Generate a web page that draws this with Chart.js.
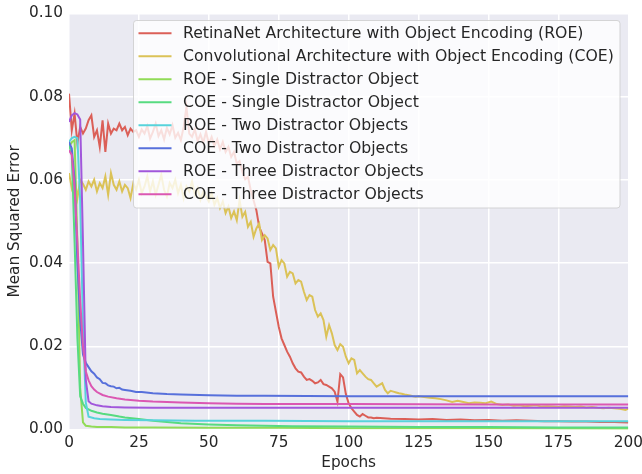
<!DOCTYPE html>
<html>
<head>
<meta charset="utf-8">
<script src="https://cdn.jsdelivr.net/npm/chart.js@4.4.1/dist/chart.umd.min.js"></script>
<style>
  html, body { margin: 0; padding: 0; background: #ffffff; }
  #c { display: block; }
</style>
</head>
<body>
<canvas id="c" width="642" height="474"></canvas>
<script>
// ---------- data ----------
const seriesLabels = [
  'RetinaNet Architecture with Object Encoding (ROE)',
  'Convolutional Architecture with Object Encoding (COE)',
  'ROE - Single Distractor Object',
  'COE - Single Distractor Object',
  'ROE - Two Distractor Objects',
  'COE - Two Distractor Objects',
  'ROE - Three Distractor Objects',
  'COE - Three Distractor Objects'
];
const seriesColors = ['#db5f57', '#dbc257', '#91db57', '#57db80', '#57d3db', '#5770db', '#a157db', '#db57b2'];

const xTicks = [0, 25, 50, 75, 100, 125, 150, 175, 200];
const yTicks = [0.00, 0.02, 0.04, 0.06, 0.08, 0.10];

// RetinaNet (ROE): one value per epoch 0..110, then every 5 epochs
const roeEpochs = [
  0,1,2,3,4,5,6,7,8,9,10,11,12,13,14,15,16,17,18,19,20,21,22,23,24,
  25,26,27,28,29,30,31,32,33,34,35,36,37,38,39,40,41,42,43,44,45,46,47,48,49,
  50,51,52,53,54,55,56,57,58,59,60,61,62,63,64,65,66,67,68,69,70,71,72,73,74,
  75,76,77,78,79,80,81,82,83,84,85,86,87,88,89,90,91,92,93,94,95,96,97,98,99,
  100,101,102,103,104,105,106,107,108,109,110,
  115,120,125,130,135,140,145,150,155,160,165,170,175,180,185,190,195,200
];
const roeMSE = [
  0.0807,0.0719,0.0759,0.0687,0.0727,0.0711,0.0723,0.0743,0.0755,0.0703,0.0719,0.0679,0.0743,0.0667,0.0735,0.0711,0.0723,0.0719,0.0735,0.0719,0.0727,0.0707,0.0723,0.0715,0.0719,
  0.0703,0.0721,0.0711,0.0729,0.0699,0.0715,0.0735,0.0705,0.0719,0.0697,0.0725,0.0709,0.0731,0.0701,0.0713,0.0695,0.0727,0.0775,0.0711,0.0703,0.0721,0.0693,0.0709,0.0689,0.0715,
  0.0687,0.0703,0.0681,0.0697,0.0673,0.0691,0.0667,0.0679,0.0655,0.0667,0.0639,0.0645,0.0619,0.0601,0.0607,0.0575,0.0551,0.0527,0.0487,0.0471,0.0455,0.0403,0.0399,0.0319,0.0283,
  0.0247,0.0219,0.0203,0.0187,0.0175,0.0159,0.0147,0.0139,0.0137,0.0127,0.0119,0.0121,0.0117,0.0111,0.0113,0.0119,0.0109,0.0107,0.0103,0.0099,0.0091,0.0067,0.0133,0.0125,0.0085,
  0.0063,0.0051,0.0043,0.0035,0.0031,0.0037,0.0033,0.0029,0.0029,0.0027,0.0028,
  0.0026,0.0025,0.0024,0.0025,0.0023,0.0024,0.0022,0.0023,0.0021,0.0022,0.0021,0.0020,0.0020,0.0019,0.0019,0.0018,0.0018,0.0017
];

// Convolutional (COE): one value per epoch 0..125, then every 2 epochs
const coeEpochs = [
  0,1,2,3,4,5,6,7,8,9,10,11,12,13,14,15,16,17,18,19,20,21,22,23,24,
  25,26,27,28,29,30,31,32,33,34,35,36,37,38,39,40,41,42,43,44,45,46,47,48,49,
  50,51,52,53,54,55,56,57,58,59,60,61,62,63,64,65,66,67,68,69,70,71,72,73,74,
  75,76,77,78,79,80,81,82,83,84,85,86,87,88,89,90,91,92,93,94,95,96,97,98,99,
  100,101,102,103,104,105,106,107,108,109,110,111,112,113,114,115,116,117,118,119,120,121,122,123,124,125,
  127,129,131,133,135,137,139,141,143,145,147,149,151,153,155,157,159,161,163,165,167,169,171,173,175,177,179,181,183,185,187,189,191,193,195,197,199,200
];
const coeMSE = [
  0.0616,0.0580,0.0603,0.0556,0.0600,0.0590,0.0576,0.0596,0.0584,0.0600,
  0.0572,0.0592,0.0580,0.0608,0.0564,0.0616,0.0588,0.0576,0.0596,0.0572,
  0.0588,0.0580,0.0556,0.0592,0.0576,0.0600,0.0568,0.0584,0.0608,0.0572,
  0.0596,0.0564,0.0588,0.0612,0.0576,0.0560,0.0592,0.0580,0.0600,0.0568,
  0.0588,0.0556,0.0584,0.0572,0.0596,0.0564,0.0580,0.0552,0.0572,0.0560,
  0.0548,0.0568,0.0540,0.0556,0.0532,0.0548,0.0520,0.0536,0.0508,0.0524,
  0.0503,0.0551,0.0511,0.0523,0.0487,0.0499,0.0463,0.0483,0.0495,0.0455,
  0.0467,0.0459,0.0431,0.0443,0.0435,0.0391,0.0407,0.0399,0.0367,0.0379,
  0.0375,0.0351,0.0359,0.0355,0.0331,0.0311,0.0323,0.0319,0.0287,0.0271,
  0.0279,0.0263,0.0223,0.0251,0.0231,0.0203,0.0191,0.0205,0.0199,0.0175,
  0.0159,0.0171,0.0167,0.0135,0.0143,0.0135,0.0127,0.0121,0.0119,0.0111,
  0.0103,0.0107,0.0111,0.0095,0.0087,0.0093,0.0091,0.0089,0.0087,0.0086,
  0.0084,0.0083,0.0082,0.0080,0.0079,0.0080,
  0.0078,0.0076,0.0075,0.0073,0.0070,0.0066,0.0069,0.0066,0.0063,0.0065,0.0064,0.0063,0.0067,0.0061,0.0059,0.0060,0.0057,0.0058,0.0056,0.0057,
  0.0058,0.0055,0.0056,0.0055,0.0054,0.0056,0.0055,0.0054,0.0055,0.0053,0.0054,0.0052,0.0051,0.0052,0.0051,0.0050,0.0047,0.0050
];

const roeSingleEpochs = [0,1,2,3,4,5,6,8,10,15,20,30,50,75,100,150,200];
const roeSingleMSE    = [0.0680,0.0690,0.0695,0.0450,0.0100,0.0017,0.0009,0.0007,0.0006,0.0006,0.0005,0.0005,0.0004,0.0004,0.0003,0.0003,0.0002];

const coeSingleEpochs = [0,1,2,3,4,5,6,8,10,12,15,18,20,25,30,35,40,50,60,70,80,100,125,150,175,200];
const coeSingleMSE    = [0.0685,0.0660,0.0450,0.0220,0.0080,0.0062,0.0052,0.0045,0.0041,0.0038,0.0035,0.0031,0.0029,0.0025,0.0021,0.0018,0.0015,0.0012,0.0010,0.0009,0.0008,0.0007,0.0006,0.0006,0.0005,0.0005];

const roeTwoEpochs = [0,1,2,3,4,5,6,7,9,11,15,20,30,45,70,100,150,200];
const roeTwoMSE    = [0.0691,0.0700,0.0703,0.0700,0.0550,0.0250,0.0065,0.0031,0.0027,0.0025,0.0024,0.0023,0.0022,0.0021,0.0021,0.0020,0.0020,0.0020];

const coeTwoEpochs = [0,1,2,3,4,5,6,7,8,9,10,11,12,13,14,15,16,17,18,19,20,22,24,26,30,35,40,50,60,70,100,150,200];
const coeTwoMSE    = [0.0691,0.0675,0.0600,0.0400,0.0263,0.0180,0.0160,0.0150,0.0140,0.0134,0.0125,0.0121,0.0112,0.0111,0.0106,0.0104,0.0103,0.0099,0.0100,0.0096,0.0095,0.0093,0.0090,0.0090,0.0087,0.0085,0.0084,0.0082,0.0081,0.0081,0.0080,0.0080,0.0080];

const roeThreeEpochs = [0,1,2,3,4,5,6,7,8,10,12,15,20,30,50,100,150,200];
const roeThreeMSE    = [0.0739,0.0755,0.0760,0.0757,0.0745,0.0450,0.0120,0.0068,0.0062,0.0058,0.0056,0.0054,0.0053,0.0052,0.0052,0.0052,0.0052,0.0052];

const coeThreeEpochs = [0,1,2,3,4,5,6,7,8,9,10,12,14,17,20,25,30,40,50,60,70,100,150,200];
const coeThreeMSE    = [0.0671,0.0660,0.0580,0.0450,0.0310,0.0200,0.0140,0.0118,0.0104,0.0096,0.0090,0.0083,0.0079,0.0075,0.0072,0.0069,0.0067,0.0065,0.0063,0.0062,0.0061,0.0061,0.0060,0.0060];

// ---------- build datasets ----------
const seriesX = [roeEpochs, coeEpochs, roeSingleEpochs, coeSingleEpochs, roeTwoEpochs, coeTwoEpochs, roeThreeEpochs, coeThreeEpochs];
const seriesY = [roeMSE, coeMSE, roeSingleMSE, coeSingleMSE, roeTwoMSE, coeTwoMSE, roeThreeMSE, coeThreeMSE];

function pairs(xs, ys) { return xs.map((x, i) => ({ x: x, y: ys[i] })); }

const datasets = seriesLabels.map((label, i) => ({
  label: label,
  data: pairs(seriesX[i], seriesY[i]),
  borderColor: seriesColors[i],
  backgroundColor: seriesColors[i],
  borderWidth: 2,
  pointRadius: 0,
  tension: 0,
  fill: false,
  order: seriesLabels.length - i
}));

const FONT = 'DejaVu Sans';
const FS = 15.3;
const LEGEND_FS = 15.7;
const TEXT = '#262626';

const bgPlugin = {
  id: 'axesBg',
  beforeDraw(chart) {
    const { ctx, chartArea: a } = chart;
    ctx.save();
    ctx.fillStyle = '#eaeaf2';
    ctx.fillRect(a.left, a.top, a.right - a.left, a.bottom - a.top);
    ctx.restore();
  }
};

const legendPlugin = {
  id: 'boxLegend',
  afterDraw(chart) {
    const { ctx } = chart;
    const x0 = 133.5, y0 = 20.5, x1 = 620, y1 = 208, r = 3;
    ctx.save();
    ctx.beginPath();
    ctx.moveTo(x0 + r, y0);
    ctx.lineTo(x1 - r, y0); ctx.arcTo(x1, y0, x1, y0 + r, r);
    ctx.lineTo(x1, y1 - r); ctx.arcTo(x1, y1, x1 - r, y1, r);
    ctx.lineTo(x0 + r, y1); ctx.arcTo(x0, y1, x0, y1 - r, r);
    ctx.lineTo(x0, y0 + r); ctx.arcTo(x0, y0, x0 + r, y0, r);
    ctx.closePath();
    ctx.fillStyle = 'rgba(255,255,255,0.8)';
    ctx.fill();
    ctx.strokeStyle = 'rgba(204,204,204,0.8)';
    ctx.lineWidth = 1;
    ctx.stroke();
    ctx.font = LEGEND_FS + 'px "' + FONT + '"';
    ctx.textBaseline = 'middle';
    ctx.textAlign = 'left';
    chart.data.datasets.forEach((ds, i) => {
      const y = 33.3 + i * 23;
      ctx.strokeStyle = ds.borderColor;
      ctx.lineWidth = 2;
      ctx.beginPath();
      ctx.moveTo(138.5, y);
      ctx.lineTo(171.5, y);
      ctx.stroke();
      ctx.fillStyle = TEXT;
      ctx.fillText(ds.label, 183, y + 0.5);
    });
    ctx.restore();
  }
};

new Chart(document.getElementById('c'), {
  type: 'line',
  data: { datasets: datasets },
  plugins: [bgPlugin, legendPlugin],
  options: {
    responsive: false,
    animation: false,
    devicePixelRatio: 1,
    parsing: true,
    layout: { padding: { top: 13.3, right: 13.7, left: 0, bottom: 0 } },
    plugins: { legend: { display: false }, tooltip: { enabled: false } },
    scales: {
      x: {
        type: 'linear',
        min: 0, max: 200,
        afterBuildTicks(scale) { scale.ticks = xTicks.map(v => ({ value: v })); },
        afterFit(scale) { scale.height = 44.5; scale.paddingLeft = 0; scale.paddingRight = 0; },
        grid: { color: '#ffffff', lineWidth: 1.5, drawTicks: false },
        border: { display: false },
        ticks: { color: TEXT, font: { family: FONT, size: FS }, padding: 4, maxRotation: 0, callback: v => String(v) },
        title: { display: true, text: 'Epochs', color: TEXT, font: { family: FONT, size: FS }, padding: { top: 0, bottom: 1.5 } }
      },
      y: {
        type: 'linear',
        min: 0, max: 0.1,
        afterBuildTicks(scale) { scale.ticks = yTicks.map(v => ({ value: v })); },
        afterFit(scale) { scale.width = 69; scale.paddingTop = 0; scale.paddingBottom = 0; },
        grid: { color: '#ffffff', lineWidth: 1.5, drawTicks: false },
        border: { display: false },
        ticks: { color: TEXT, font: { family: FONT, size: FS }, padding: 6, callback: v => Number(v).toFixed(2) },
        title: { display: true, text: 'Mean Squared Error', color: TEXT, font: { family: FONT, size: FS }, padding: { top: 6, bottom: 0 } }
      }
    }
  }
});
</script>
</body>
</html>
